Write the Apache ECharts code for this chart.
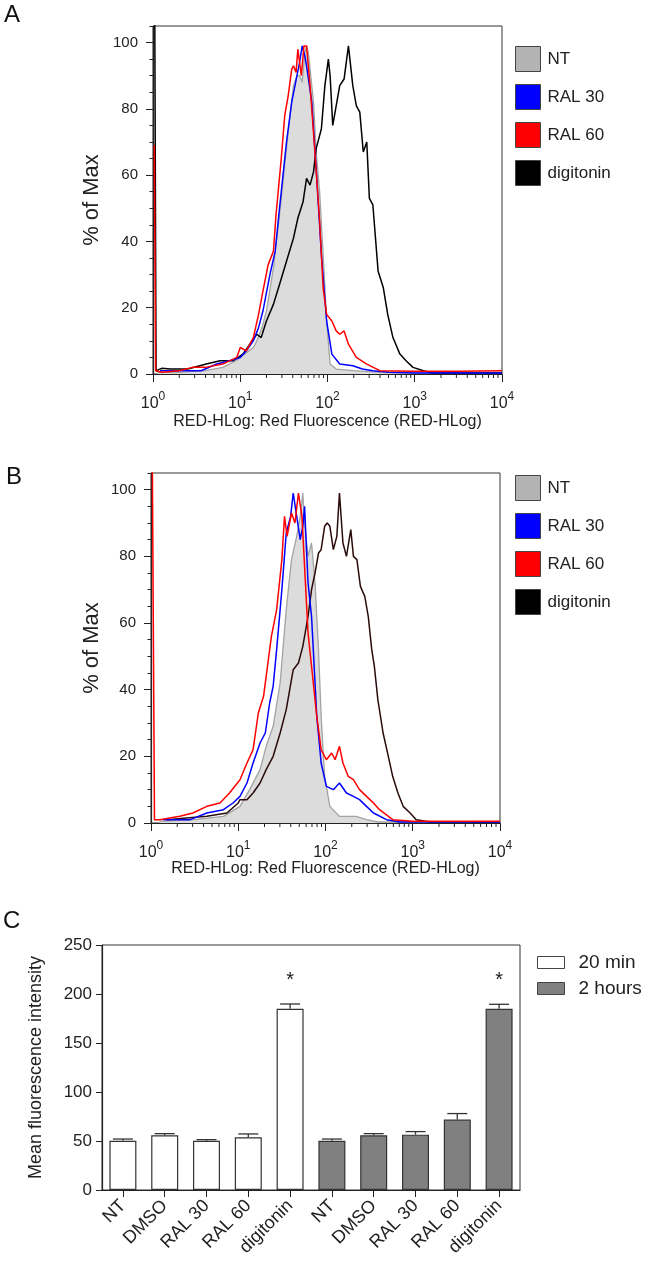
<!DOCTYPE html>
<html><head><meta charset="utf-8">
<script src="https://cdn.jsdelivr.net/npm/echarts@6/dist/echarts.min.js"></script>
<style>html,body{margin:0;padding:0;background:#fff}#c{width:648px;height:1266px}</style>
</head><body><div id="c"></div>
<script>
const FONT = '"Liberation Sans", Arial, Helvetica, sans-serif';

// ---- Panel A histograms: [log10(RED-HLog fluorescence), % of Max] ----
const A_NT = [[0.05,0.5],[0.3,0.5],[0.6,1],[0.8,2],[0.95,4],[1.05,6],[1.15,8],[1.19,10],[1.25,14],[1.30,19],[1.38,32],[1.45,48],[1.53,68],[1.57,78],[1.61,87],[1.65,90],[1.68,90],[1.71,88],[1.74,97],[1.76,99],[1.78,97],[1.80,92],[1.84,82],[1.87,67],[1.91,55],[1.95,36],[1.99,16],[2.03,3],[2.10,1.5],[2.3,1],[2.6,0.5],[3.0,0.3],[4.0,0.3]];
const A_RAL30 = [[0.08,1],[0.3,1],[0.55,1],[0.73,3],[0.88,4],[1.0,5],[1.07,7],[1.15,10],[1.21,14],[1.26,19],[1.34,30],[1.40,37],[1.45,50],[1.53,70],[1.59,82],[1.65,90],[1.68,94],[1.71,99],[1.74,96],[1.76,93],[1.82,82],[1.87,62],[1.93,36],[1.99,16],[2.05,6],[2.14,3],[2.29,2.5],[2.40,1.5],[2.52,1],[2.7,0.5],[3.0,0.3],[4.0,0.3]];
const A_RAL60 = [[0.015,69],[0.03,1],[0.1,0.5],[0.3,1],[0.45,2],[0.6,2],[0.8,3],[0.96,5],[1.0,8],[1.07,7],[1.15,11],[1.21,18],[1.26,25],[1.32,33],[1.38,37],[1.41,48],[1.47,65],[1.51,78],[1.55,84],[1.59,92],[1.61,93],[1.64,91],[1.66,98],[1.70,90],[1.73,99],[1.76,99],[1.80,87],[1.85,69],[1.91,46],[1.95,26],[1.99,18],[2.05,16],[2.10,13],[2.14,12],[2.19,13],[2.24,9],[2.33,5],[2.45,3],[2.60,1],[3.0,0.8],[3.5,0.8],[4.0,1]];
const A_DIG = [[0.02,110],[0.035,1],[0.1,1.7],[0.2,1.5],[0.4,1.5],[0.61,3],[0.77,4],[0.92,4],[1.03,6],[1.11,9],[1.19,12],[1.24,11],[1.30,16],[1.38,21],[1.45,27],[1.53,34],[1.61,41],[1.66,47],[1.72,52],[1.76,59],[1.80,57],[1.84,61],[1.87,68],[1.93,74],[1.97,87],[2.01,95],[2.03,90],[2.06,75],[2.10,81],[2.14,87],[2.19,89],[2.24,99],[2.29,87],[2.33,81],[2.37,79],[2.41,67],[2.45,70],[2.48,53],[2.52,51],[2.58,31],[2.64,26],[2.69,18],[2.75,11],[2.83,6],[2.90,4],[2.98,2],[3.10,1],[3.2,0.3],[4.0,0.3]];

// ---- Panel B histograms ----
const B_NT = [[0.1,0.5],[0.5,1],[0.83,2],[1.02,5],[1.13,10],[1.25,16],[1.32,23],[1.40,29],[1.48,42],[1.55,64],[1.61,79],[1.67,86],[1.71,92],[1.74,99],[1.76,90],[1.80,80],[1.84,84],[1.88,72],[1.92,52],[1.95,32],[1.99,14],[2.05,5],[2.16,2],[2.35,2],[2.47,1],[2.6,0.3],[4.0,0.3]];
const B_RAL30 = [[0.14,1],[0.45,1],[0.64,3],[0.83,4],[0.94,6],[1.02,8],[1.10,12],[1.17,18],[1.25,24],[1.31,27],[1.36,36],[1.40,41],[1.44,52],[1.50,70],[1.55,87],[1.60,92],[1.63,99],[1.67,92],[1.71,85],[1.74,89],[1.76,95],[1.80,72],[1.84,62],[1.90,32],[1.95,18],[2.01,11],[2.09,10],[2.16,12],[2.24,9],[2.32,8],[2.39,7],[2.47,5],[2.55,3],[2.70,1],[2.85,0.3],[4.0,0.3]];
const B_RAL60 = [[0.015,110],[0.04,1],[0.10,1],[0.33,2],[0.48,3],[0.64,5],[0.79,6],[0.90,9],[1.02,13],[1.10,18],[1.17,22],[1.23,33],[1.29,38],[1.32,44],[1.38,56],[1.44,64],[1.50,79],[1.53,92],[1.56,86],[1.61,93],[1.65,90],[1.69,99],[1.73,92],[1.76,77],[1.80,57],[1.86,42],[1.90,32],[1.95,22],[2.01,19],[2.07,21],[2.11,19],[2.16,23],[2.20,18],[2.26,14],[2.32,13],[2.39,10],[2.47,8],[2.55,6],[2.62,4],[2.77,1],[3.0,0.5],[4.0,0.5]];
const B_DIG = [[0.18,1],[0.64,2],[0.87,3],[1.0,6],[1.02,7],[1.10,7],[1.17,9],[1.25,12],[1.32,16],[1.40,20],[1.48,27],[1.55,34],[1.63,46],[1.69,48],[1.74,53],[1.80,62],[1.84,70],[1.88,75],[1.92,81],[1.95,82],[1.99,89],[2.02,90],[2.05,89],[2.09,82],[2.13,86],[2.16,99],[2.20,84],[2.24,80],[2.29,88],[2.32,80],[2.36,79],[2.40,71],[2.45,68],[2.49,62],[2.53,52],[2.56,47],[2.60,37],[2.66,27],[2.72,20],[2.77,14],[2.83,9],[2.89,5],[2.97,3],[3.04,1],[3.2,0.3],[4.0,0.3]];

const histNames = ['NT','RAL 30','RAL 60','digitonin'];
const histColors = {'NT':'#b3b3b3','RAL 30':'#0000ff','RAL 60':'#ff0000','digitonin':'#000000'};
const yLabelValues = [0,20,40,60,80,100];
const xMinorTicks = [2,3,4,5,6,7,8,9,20,30,40,50,60,70,80,90,200,300,400,500,600,700,800,900,2000,3000,4000,5000,6000,7000,8000,9000];

// ---- Panel C ----
const catLabels = ['NT','DMSO','RAL 30','RAL 60','digitonin','NT','DMSO','RAL 30','RAL 60','digitonin'];
const min20 = [50.3, 55.8, 50.3, 53.8, 185.0];
const min20Err = [1.7, 1.7, 1.1, 3.4, 4.8];
const hr2 = [50.3, 55.8, 56.5, 71.9, 185.0];
const hr2Err = [1.7, 1.7, 3.1, 6.1, 4.5];
const min20Sig = [0,0,0,0,1];
const hr2Sig = [0,0,0,0,1];

const toXY = arr => arr.map(p => [Math.pow(10, p[0]), p[1]]);

function histGrid(top, left, height) {
  return {left: left, top: top, width: 349, height: height, show: true, borderColor: '#333', borderWidth: 1, backgroundColor: 'transparent', outerBoundsMode: 'none', containLabel: false};
}
function xLog(gi, nameGap) {
  return {
    type: 'log', logBase: 10, min: 1, max: 10000, gridIndex: gi, position: 'bottom',
    name: 'RED-HLog: Red Fluorescence (RED-HLog)', nameLocation: 'middle', nameGap: nameGap, nameMoveOverlap: false,
    nameTextStyle: {fontFamily: FONT, fontSize: 16, color: '#222'},
    axisLine: {show: true, lineStyle: {color: '#222', width: 1.2}},
    axisTick: {show: true, inside: false, length: 8, lineStyle: {color: '#222', width: 1}},
    minorTick: {show: false}, splitLine: {show: false},
    axisLabel: {
      margin: 17, color: '#222', fontFamily: FONT,
      formatter: v => '{b|10}{s|' + Math.round(Math.log10(v)) + '}',
      rich: {b: {fontSize: 16, fontFamily: FONT, color: '#222', lineHeight: 21, verticalAlign: 'bottom'},
             s: {fontSize: 12, fontFamily: FONT, color: '#222', lineHeight: 13, verticalAlign: 'top'}}
    }
  };
}
function yPct(gi, nameGap) {
  return [{
    type: 'value', gridIndex: gi, min: 0, max: 105, interval: 5, position: 'left',
    name: '% of Max', nameLocation: 'middle', nameGap: nameGap, nameMoveOverlap: false,
    nameTextStyle: {fontFamily: FONT, fontSize: 22, color: '#222'},
    axisLine: {show: true, lineStyle: {color: '#222', width: 1.2}},
    axisTick: {show: true, length: 3.5, lineStyle: {color: '#222', width: 1}},
    splitLine: {show: false},
    axisLabel: {margin: 15, fontFamily: FONT, fontSize: 15, color: '#222',
      formatter: v => (yLabelValues.indexOf(v) >= 0 ? String(v) : '')}
  }, {
    type: 'value', gridIndex: gi, min: 0, max: 105, position: 'left',
    axisLine: {show: false}, splitLine: {show: false}, axisLabel: {show: false},
    axisTick: {show: true, length: 7, customValues: yLabelValues, lineStyle: {color: '#222', width: 1}}
  }];
}
function histSeries(datas, xi, yi, digColor) {
  const out = [];
  out.push({type: 'line', name: 'NT', xAxisIndex: xi, yAxisIndex: yi, data: toXY(datas[0]), symbol: 'none', showSymbol: false,
    lineStyle: {color: '#a3a3a3', width: 1.3}, itemStyle: {color: '#b3b3b3'}, areaStyle: {color: '#dcdcdc', opacity: 1}, z: 2});
  out.push({type: 'line', name: 'digitonin', xAxisIndex: xi, yAxisIndex: yi, data: toXY(datas[3]), symbol: 'none', showSymbol: false,
    lineStyle: {color: digColor, width: 1.5}, itemStyle: {color: '#000'}, z: 3});
  out.push({type: 'line', name: 'RAL 30', xAxisIndex: xi, yAxisIndex: yi, data: toXY(datas[1]), symbol: 'none', showSymbol: false,
    lineStyle: {color: '#0000ff', width: 1.5}, itemStyle: {color: '#0000ff'}, z: 4});
  out.push({type: 'line', name: 'RAL 60', xAxisIndex: xi, yAxisIndex: yi, data: toXY(datas[2]), symbol: 'none', showSymbol: false,
    lineStyle: {color: '#ff0000', width: 1.5}, itemStyle: {color: '#ff0000'}, z: 5});
  out.push({type: 'custom', name: 'minorTicks' + xi, xAxisIndex: xi, yAxisIndex: yi, silent: true, clip: false, z: 6,
    data: xMinorTicks.map(v => [v, 0]),
    renderItem: (params, api) => {
      const p = api.coord([api.value(0), 0]);
      return {type: 'line', shape: {x1: p[0], y1: p[1], x2: p[0], y2: p[1] + 4}, style: {stroke: '#222', lineWidth: 1}};
    }});
  return out;
}
function histLegend(top) {
  return {
    orient: 'vertical', left: 515, top: top, padding: 0, itemWidth: 25, itemHeight: 25, itemGap: 12, icon: 'rect',
    selectedMode: false,
    itemStyle: {borderColor: '#444', borderWidth: 1},
    textStyle: {fontFamily: FONT, fontSize: 17, color: '#222', padding: [0, 0, 0, 2]},
    data: histNames.map(n => ({name: n, icon: 'rect', itemStyle: {color: histColors[n], borderColor: '#444', borderWidth: 1}}))
  };
}

const barAll20 = catLabels.map((c, i) => i < 5 ? min20[i] : '-');
const barAll2h = catLabels.map((c, i) => i >= 5 ? hr2[i - 5] : '-');
const errData = [];
for (let i = 0; i < 5; i++) {
  errData.push([i, min20[i], min20Err[i], min20Sig[i]]);
  errData.push([i + 5, hr2[i], hr2Err[i], hr2Sig[i]]);
}

const yAxA = yPct(0, 50);
const yAxB = yPct(1, 48);

const option = {
  animation: false,
  backgroundColor: '#fff',
  textStyle: {fontFamily: FONT},
  grid: [
    histGrid(26, 153, 348),
    histGrid(473, 151, 350),
    {left: 102, top: 945, width: 418, height: 245, show: true, borderColor: '#333', borderWidth: 1, outerBoundsMode: 'none', containLabel: false}
  ],
  xAxis: [
    xLog(0, 40),
    xLog(1, 38),
    {
      type: 'category', gridIndex: 2, position: 'bottom', data: catLabels.map((c, i) => c + '#' + i),
      axisLine: {lineStyle: {color: '#222', width: 1.2}},
      axisTick: {show: true, alignWithLabel: true, length: 7, lineStyle: {color: '#222'}},
      axisLabel: {rotate: 45, margin: 13, interval: 0, fontFamily: FONT, fontSize: 18, color: '#222',
        formatter: (v, i) => catLabels[i]},
      splitLine: {show: false}
    }
  ],
  yAxis: [
    yAxA[0], yAxA[1], yAxB[0], yAxB[1],
    {
      type: 'value', gridIndex: 2, min: 0, max: 250, interval: 50, position: 'left',
      name: 'Mean fluorescence intensity', nameLocation: 'middle', nameGap: 57, nameMoveOverlap: false,
      nameTextStyle: {fontFamily: FONT, fontSize: 18, color: '#222'},
      axisLine: {show: true, lineStyle: {color: '#222', width: 1.2}},
      axisTick: {show: true, length: 6, lineStyle: {color: '#222'}},
      axisLabel: {margin: 10, fontFamily: FONT, fontSize: 17, color: '#222'},
      splitLine: {show: false}
    }
  ],
  legend: [
    histLegend(46),
    histLegend(475),
    {
      orient: 'vertical', left: 537, top: 953, padding: 0, itemWidth: 27, itemHeight: 12, itemGap: 7, icon: 'rect',
      selectedMode: false,
      textStyle: {fontFamily: FONT, fontSize: 19, color: '#222', padding: [0, 0, 0, 9]},
      data: [
        {name: '20 min', itemStyle: {color: '#ffffff', borderColor: '#444', borderWidth: 1}},
        {name: '2 hours', itemStyle: {color: '#808080', borderColor: '#444', borderWidth: 1}}
      ]
    }
  ],
  graphic: [
    {type: 'text', left: 4, top: 3, style: {text: 'A', fontFamily: FONT, fontSize: 24, fill: '#111'}},
    {type: 'text', left: 6, top: 465, style: {text: 'B', fontFamily: FONT, fontSize: 24, fill: '#111'}},
    {type: 'text', left: 3, top: 909, style: {text: 'C', fontFamily: FONT, fontSize: 24, fill: '#111'}}
  ],
  series: [].concat(
    histSeries([A_NT, A_RAL30, A_RAL60, A_DIG], 0, 0, '#000000'),
    histSeries([B_NT, B_RAL30, B_RAL60, B_DIG], 1, 2, '#2a0b0b'),
    [
      {type: 'bar', name: '20 min', xAxisIndex: 2, yAxisIndex: 4, data: barAll20, barWidth: 27, barGap: '-100%',
        itemStyle: {color: '#ffffff', borderColor: '#333', borderWidth: 1.2}},
      {type: 'bar', name: '2 hours', xAxisIndex: 2, yAxisIndex: 4, data: barAll2h, barWidth: 27, barGap: '-100%',
        itemStyle: {color: '#808080', borderColor: '#333', borderWidth: 1.2}},
      {type: 'custom', name: 'err', xAxisIndex: 2, yAxisIndex: 4, data: errData, z: 10, silent: true,
        renderItem: (params, api) => {
          const i = api.value(0), m = api.value(1), e = api.value(2), s = api.value(3);
          const base = api.coord([i, m]);
          const top = api.coord([i, m + e]);
          const ch = [
            {type: 'line', shape: {x1: top[0], y1: base[1], x2: top[0], y2: top[1]}, style: {stroke: '#333', lineWidth: 1.3}},
            {type: 'line', shape: {x1: top[0] - 10, y1: top[1], x2: top[0] + 10, y2: top[1]}, style: {stroke: '#333', lineWidth: 1.3}}
          ];
          if (s) ch.push({type: 'text', x: top[0], y: top[1] - 24,
            style: {text: '*', fontFamily: FONT, fontSize: 20, fill: '#222', align: 'center', verticalAlign: 'middle'}});
          return {type: 'group', children: ch};
        }}
    ]
  )
};

const chart = echarts.init(document.getElementById('c'), null, {renderer: 'canvas'});
chart.setOption(option);
</script>
</body></html>
